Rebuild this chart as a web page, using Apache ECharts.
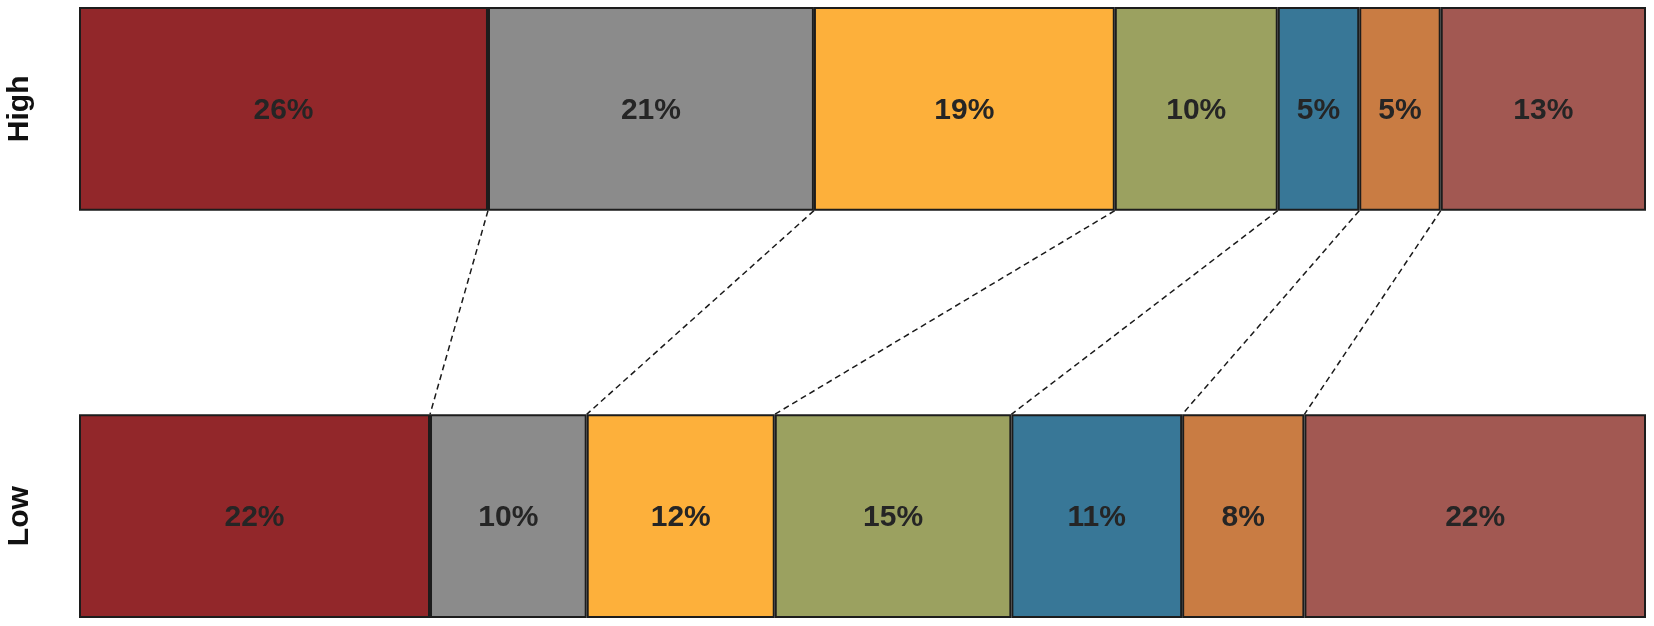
<!DOCTYPE html>
<html>
<head>
<meta charset="utf-8">
<script src="https://cdn.jsdelivr.net/npm/echarts@6/dist/echarts.min.js"></script>
<style>
html,body{margin:0;padding:0;background:#fff;}
#chart{width:1654px;height:626px;}
</style>
</head>
<body>
<div id="chart"></div>
<script>
// Rows (middle empty slot is the gap that holds the connector lines)
const categories = ['High', '', 'Low'];
const segmentNames = ['S1', 'S2', 'S3', 'S4', 'S5', 'S6', 'S7'];
const highValues = [26.1, 20.8, 19.2, 10.4, 5.2, 5.2, 13.1];
const lowValues = [22.4, 10.0, 12.0, 15.1, 10.9, 7.8, 21.8];
const colors = ['#92272A', '#8B8B8B', '#FDB03B', '#9BA160', '#387797', '#C97C43', '#A25852'];

const chart = echarts.init(document.getElementById('chart'));

const barSeries = segmentNames.map((name, i) => ({
  name: name,
  type: 'bar',
  stack: 'total',
  barWidth: '100%',
  data: [highValues[i], '-', lowValues[i]],
  itemStyle: { color: colors[i], borderColor: '#1c1c1c', borderWidth: 2 },
  label: {
    show: true,
    position: 'inside',
    offset: [0, 2],
    formatter: p => Math.round(p.value) + '%',
    fontFamily: 'Liberation Sans, Arial, sans-serif',
    fontWeight: 'bold',
    fontSize: 30,
    color: '#252525'
  },
  emphasis: { disabled: true }
}));

// connector lines between inner segment boundaries
const connectors = [];
let ch = 0, cl = 0;
for (let i = 0; i < highValues.length - 1; i++) {
  ch += highValues[i];
  cl += lowValues[i];
  connectors.push([ch, cl, 1]);
}

const connectorSeries = {
  type: 'custom',
  data: connectors,
  encode: { x: [0, 1], y: 2 },
  silent: true,
  z: 1,
  renderItem: function (params, api) {
    const p1 = api.coord([api.value(0), 0]);
    const p2 = api.coord([api.value(1), 2]);
    const half = api.size([0, 1])[1] / 2;
    return {
      type: 'line',
      shape: { x1: p1[0], y1: p1[1] + half, x2: p2[0], y2: p2[1] - half },
      style: { stroke: '#1a1a1a', lineWidth: 1.5, lineDash: [6, 4] }
    };
  }
};

chart.setOption({
  animation: false,
  grid: { left: 79, right: 8, top: 7, bottom: 8 },
  xAxis: { type: 'value', min: 0, max: 100, show: false },
  yAxis: {
    type: 'category',
    data: categories,
    inverse: true,
    axisLine: { show: false },
    axisTick: { show: false },
    axisLabel: {
      rotate: 90,
      margin: 44,
      fontFamily: 'Liberation Sans, Arial, sans-serif',
      fontWeight: 'bold',
      fontSize: 30,
      color: '#111'
    }
  },
  series: barSeries.concat([connectorSeries])
});
</script>
</body>
</html>
